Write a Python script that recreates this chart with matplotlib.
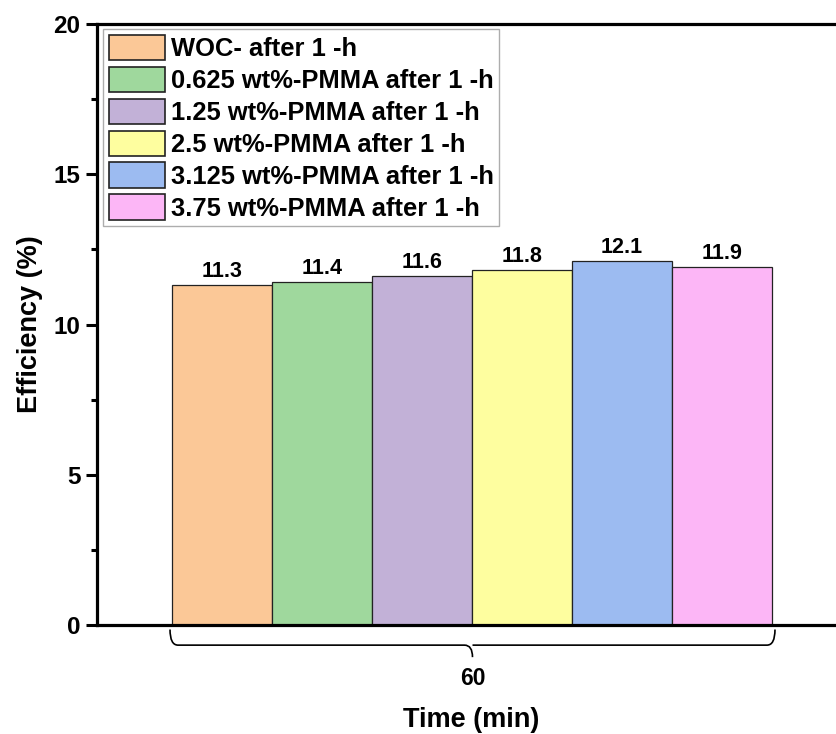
import matplotlib
matplotlib.use("Agg")
import matplotlib.pyplot as plt
from matplotlib.path import Path
from matplotlib.patches import PathPatch, Patch
from matplotlib.ticker import MultipleLocator

plt.rcParams['font.family'] = ['Liberation Sans', 'DejaVu Sans']
plt.rcParams['font.weight'] = 'bold'
plt.rcParams['axes.labelweight'] = 'bold'

# Efficiency after 1 h for each sample, all measured at 60 min
labels = ["WOC- after 1 -h",
          "0.625 wt%-PMMA after 1 -h",
          "1.25 wt%-PMMA after 1 -h",
          "2.5 wt%-PMMA after 1 -h",
          "3.125 wt%-PMMA after 1 -h",
          "3.75 wt%-PMMA after 1 -h"]
efficiency = [11.3, 11.4, 11.6, 11.8, 12.1, 11.9]
group_label = "60"
colors = ['#FBC897', '#9FD89D', '#C2B1D7', '#FEFE9F', '#9CBBF1', '#FCB6F6']

fig = plt.figure(figsize=(8.37, 7.34), dpi=100)
ax = fig.add_axes([0.1159, 0.1485, 0.9044, 0.8188])

positions = list(range(len(efficiency)))
bars = ax.bar(positions, efficiency, width=1.0, color=colors,
              edgecolor='#222222', linewidth=0.9, zorder=2)
for rect, val in zip(bars, efficiency):
    ax.annotate(f"{val:.1f}", (rect.get_x() + rect.get_width() / 2, val),
                xytext=(0, 2.5), textcoords='offset points',
                ha='center', va='bottom', fontsize=15.5, fontweight='bold')

ax.set_xlim(-1.25, 6.32)
ax.set_ylim(0, 20)
ax.yaxis.set_major_locator(MultipleLocator(5))
ax.yaxis.set_minor_locator(MultipleLocator(2.5))
ax.tick_params(axis='y', which='major', direction='out', length=8, width=2.2,
               labelsize=17.5, pad=4)
ax.tick_params(axis='y', which='minor', direction='out', length=4, width=2.2)
ax.tick_params(axis='x', which='both', bottom=False, labelbottom=False)
for side in ['left', 'bottom', 'top', 'right']:
    ax.spines[side].set_linewidth(2.3)
ax.set_ylabel("Efficiency (%)", fontsize=19.5)
ax.yaxis.set_label_coords(-0.072, 0.5)

# Brace under the bar group
x0, x1 = -0.52, 5.53
xm = (x0 + x1) / 2
y_top, y_mid, y_tip = -0.15, -0.67, -1.07
c = 0.08
verts = [(x0, y_top), (x0, y_mid), (x0 + c, y_mid),
         (xm - c, y_mid), (xm, y_mid), (xm, y_tip),
         (xm, y_mid), (xm + c, y_mid),
         (x1 - c, y_mid), (x1, y_mid), (x1, y_top)]
codes = [Path.MOVETO, Path.CURVE3, Path.CURVE3,
         Path.LINETO, Path.CURVE3, Path.LINETO,
         Path.MOVETO, Path.LINETO,
         Path.LINETO, Path.CURVE3, Path.CURVE3]
ax.add_patch(PathPatch(Path(verts, codes), fill=False, lw=1.2,
                       edgecolor='black', clip_on=False))
ax.text(xm, -1.4, group_label, ha='center', va='top', fontsize=16.5,
        fontweight='bold')
ax.set_xlabel("Time (min)", fontsize=19.5)
ax.xaxis.set_label_coords((471 - 97) / (0.9044 * 837), -0.137)

handles = [Patch(facecolor=col, edgecolor='#222222', linewidth=1.2) for col in colors]
leg = fig.legend(handles, labels, loc='upper left',
                 bbox_to_anchor=(103 / 837, 1 - 29 / 734), borderaxespad=0,
                 fontsize=18.4, frameon=True, fancybox=False, edgecolor='#999999',
                 handlelength=2.2, handleheight=1.15, handletextpad=0.23,
                 labelspacing=0.22, borderpad=0.22)
leg.get_frame().set_linewidth(1.0)
for t in leg.get_texts():
    t.set_fontweight('bold')

fig.savefig("out.png", dpi=100)
